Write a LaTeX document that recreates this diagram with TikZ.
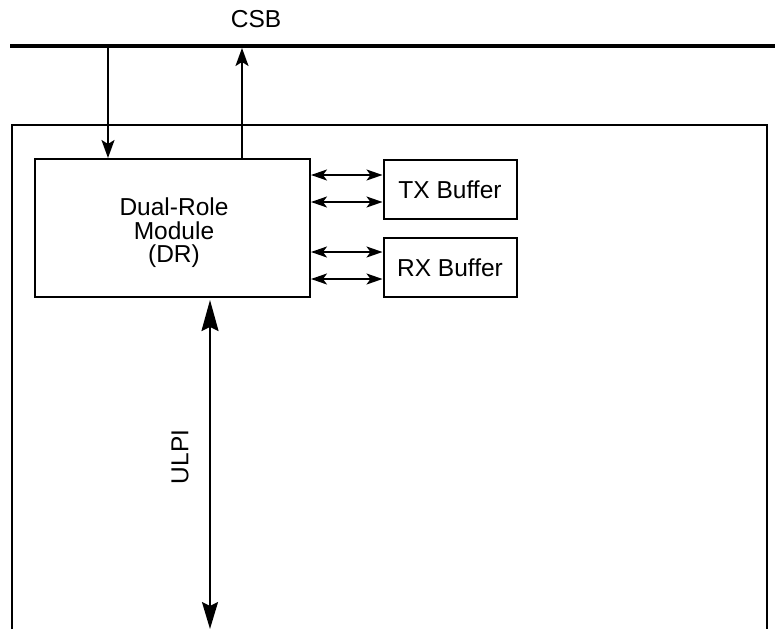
\documentclass[tikz,border=0pt]{standalone}
\usepackage{fontspec}
\setmainfont{Liberation Sans}
\usetikzlibrary{arrows.meta}
\begin{document}
\begin{tikzpicture}[x=1pt,y=-1pt,
  lbl/.style={font=\fontsize{24.5}{23.5}\selectfont, align=center, inner sep=0pt},
  blk/.style={draw, line width=2pt, rectangle, inner sep=0pt, lbl},
  onearr/.style={line width=2pt, -{Stealth[length=18pt,width=13pt,inset=4pt]}},
  dblarr/.style={line width=1.7pt, {Stealth[length=16pt,width=11pt,inset=4pt]}-{Stealth[length=16pt,width=11pt,inset=4pt]}},
  bigarr/.style={line width=2pt, {Stealth[length=31pt,width=17pt,inset=4pt]}-{Stealth[length=27pt,width=16pt,inset=4pt]}}]
\useasboundingbox (0,0) rectangle (775,629);
% bus
\coordinate (busL) at (10,46);
\coordinate (busR) at (775,46);
\draw[line width=4pt] (busL) -- (busR);
\node[lbl] (csb) at (256,19) {CSB};
% outer frame (open at bottom)
\draw[line width=2pt] (12,629) -- (12,125) -- (767,125) -- (767,629);
% blocks
\node[blk, minimum width=275pt, minimum height=138pt] (dr) at (172.5,228) {};
\node[lbl] (drtext) at (174,233) {Dual-Role\\Module\\(DR)};
\node[blk, minimum width=133pt, minimum height=59pt] (tx) at (450,189.5) {TX Buffer};
\node[blk, minimum width=133pt, minimum height=59pt] (rx) at (450,267.5) {RX Buffer};
% CSB connections
\coordinate (c1) at (108,47);
\coordinate (c2) at (242,48);
\draw[onearr] (c1) -- (c1 |- dr.north);
\draw[onearr] (c2 |- dr.north) -- (c2);
% buffer connections
\draw[dblarr] (dr.east |- 0,175) -- (tx.west |- 0,175);
\draw[dblarr] (dr.east |- 0,202) -- (tx.west |- 0,202);
\draw[dblarr] (dr.east |- 0,252) -- (rx.west |- 0,252);
\draw[dblarr] (dr.east |- 0,279) -- (rx.west |- 0,279);
% ULPI
\coordinate (ulpiTop) at (210,300);
\coordinate (ulpiBot) at (210,629);
\draw[bigarr] (ulpiTop) -- (ulpiBot);
\node[lbl, rotate=90] (ulpi) at (180,457) {ULPI};
\end{tikzpicture}
\end{document}
